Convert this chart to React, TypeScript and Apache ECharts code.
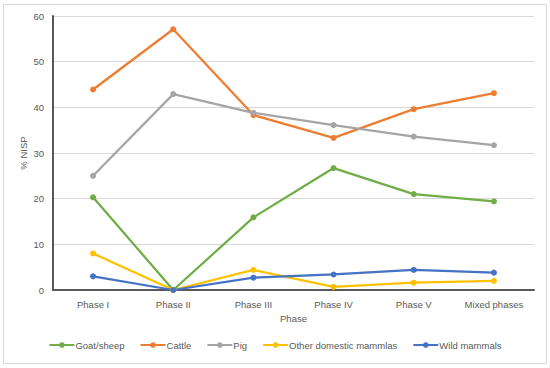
import React, { useEffect, useRef } from "react";
import * as echarts from "echarts";

const categories = ["Phase I", "Phase II", "Phase III", "Phase IV", "Phase V", "Mixed phases"];
const goatSheep = [20.3, 0, 15.9, 26.7, 21.0, 19.4];
const cattle = [43.9, 57.1, 38.3, 33.3, 39.6, 43.1];
const pig = [25.0, 42.9, 38.8, 36.1, 33.6, 31.7];
const otherDomestic = [8.0, 0, 4.4, 0.7, 1.6, 2.0];
const wildMammals = [3.0, 0, 2.7, 3.4, 4.4, 3.8];
const seriesNames = ["Goat/sheep", "Cattle", "Pig", "Other domestic mammlas", "Wild mammals"];
const colors = ["#70AD47", "#ED7D31", "#A5A5A5", "#FFC000", "#4472C4"];

export default function App() {
  const ref = useRef<HTMLDivElement>(null);
  useEffect(() => {
    if (!ref.current) return;
    const chart = echarts.init(ref.current, null, { renderer: "svg" });
    const data = [goatSheep, cattle, pig, otherDomestic, wildMammals];
    const font = "'Liberation Sans', Arial, sans-serif";
    chart.setOption({
      animation: false,
      color: colors,
      graphic: [
        {
          type: "rect",
          shape: { x: 3.5, y: 4.5, width: 543, height: 359 },
          style: { fill: "none", stroke: "#D9D9D9", lineWidth: 1 },
          silent: true,
        },
      ],
      grid: { left: 53, right: 16, top: 16, bottom: 78 },
      legend: {
        bottom: 13,
        left: "center",
        itemWidth: 25,
        itemHeight: 7,
        itemGap: 15,
        textStyle: { color: "#595959", fontSize: 9.5, fontFamily: font, padding: [0, 0, 0, -4] },
        data: seriesNames,
      },
      xAxis: {
        type: "category",
        data: categories,
        name: "Phase",
        nameLocation: "middle",
        nameGap: 23,
        nameTextStyle: { color: "#595959", fontSize: 9.5, fontFamily: font },
        axisLine: { lineStyle: { color: "#595959", width: 2 } },
        axisTick: { show: false },
        axisLabel: { color: "#595959", fontSize: 9.5, fontFamily: font, margin: 9, interval: 0 },
      },
      yAxis: {
        type: "value",
        min: 0,
        max: 60,
        interval: 10,
        name: "% NISP",
        nameLocation: "middle",
        nameGap: 25,
        nameMoveOverlap: false,
        nameTextStyle: { color: "#595959", fontSize: 9.5, fontFamily: font },
        axisLine: { show: true, lineStyle: { color: "#595959", width: 2 } },
        axisTick: { show: false },
        axisLabel: { color: "#595959", fontSize: 9.5, fontFamily: font, margin: 9 },
        splitLine: { lineStyle: { color: "#D9D9D9", width: 1 } },
      },
      series: seriesNames.map((name, i) => ({
        name,
        type: "line",
        data: data[i],
        symbol: "circle",
        symbolSize: 6,
        lineStyle: { width: 2.25, color: colors[i] },
        itemStyle: { color: colors[i] },
      })),
    });
    return () => chart.dispose();
  }, []);
  return <div ref={ref} style={{ width: 550, height: 368, position: "absolute", left: 0, top: 0 }} />;
}
